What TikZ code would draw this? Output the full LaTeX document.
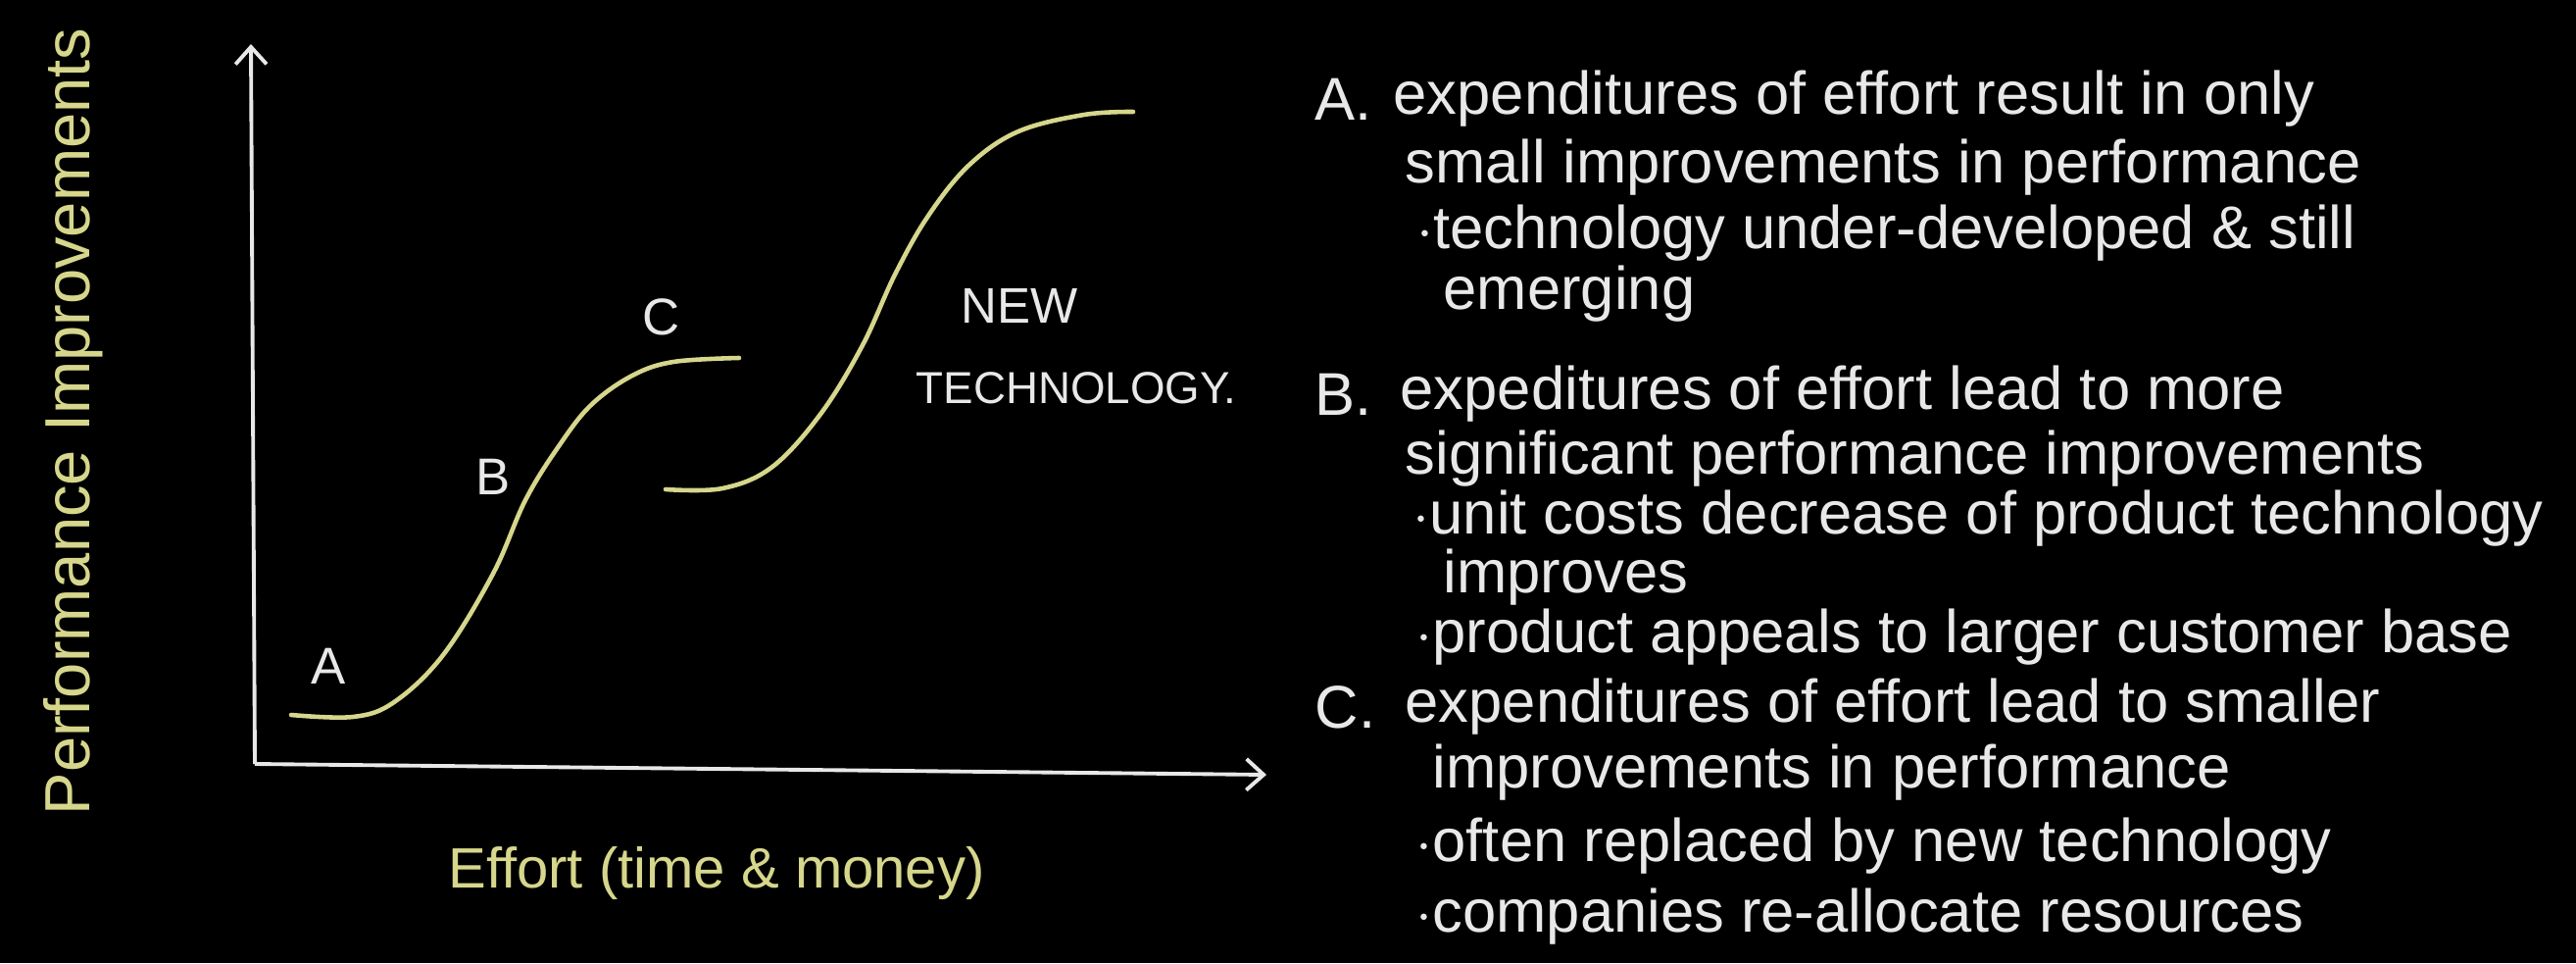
\documentclass[tikz,border=0pt]{standalone}
\usepackage{fontspec}
\setmainfont{Liberation Sans}
\usepackage{tikz}
\usetikzlibrary{arrows.meta, positioning}
\usepackage{xcolor}
\definecolor{chalkYellow}{RGB}{214,214,140}
\definecolor{chalkWhite}{RGB}{232,232,232}

\begin{document}
\begin{tikzpicture}[
    x=0.01cm, y=-0.01cm,
    axisline/.style={draw=chalkWhite, line width=1.1pt, -{Straight Barb[length=5pt, width=9pt]}},
    scurve/.style={draw=chalkYellow, line width=1.3pt, line cap=round},
    phase/.style={text=chalkWhite, font=\fontsize{15}{15}\selectfont, inner sep=0pt},
    tech/.style={text=chalkWhite, font=\fontsize{13}{13}\selectfont, inner sep=0pt, anchor=west},
    note/.style={text=chalkWhite, font=\fontsize{17.5}{17.5}\selectfont, inner sep=0pt, anchor=west},
    axislabel/.style={text=chalkYellow, inner sep=0pt}
]
% background and frame
\fill[black] (0,0) rectangle (2628,982);
\useasboundingbox (0,0) rectangle (2628,982);

% axes
\coordinate (origin) at (260,779);
\coordinate (ytop) at (256,45);
\coordinate (xend) at (1292,790);
\draw[axisline] (origin) -- (ytop);
\draw[axisline] (origin) -- (xend);

\node[axislabel, rotate=90, font=\fontsize{18.5}{18.5}\selectfont] (ylab) at (75,430) {Performance Improvements};
\node[axislabel, font=\fontsize{16.5}{16.5}\selectfont] (xlab) at (731,890) {Effort (time \& money)};

% old and new technology curves
\draw[scurve] plot[smooth, tension=0.6] coordinates {(297,729) (360,731) (402,716) (452,668) (503,585) (536,510) (570,455) (603,413) (645,383) (687,369) (754,365)};
\draw[scurve] plot[smooth, tension=0.6] coordinates {(679,499) (737,498) (788,476) (838,421) (880,352) (913,280) (947,220) (989,168) (1039,134) (1106,117) (1156,114)};

\node[phase] (pA) at (335,679) {A};
\node[phase] (pB) at (503,486) {B};
\node[phase] (pC) at (675,323) {C};
\node[tech, font=\fontsize{14.5}{14.5}\selectfont] (newl) at (980,312) {NEW};
\node[tech] (techl) at (934,396) {TECHNOLOGY.};

% explanations
\node[note] (a0) at (1341,101) {A.};
\node[note] (a1) at (1421,101) {expenditures of effort result in only};
\node[note] (a2) at (1433,171) {small improvements in performance};
\node[note] (a3) at (1445,238) {$\cdot$technology under-developed \& still};
\node[note] (a4) at (1472,300) {emerging};

\node[note] (b0) at (1341,402) {B.};
\node[note] (b1) at (1428,402) {expeditures of effort lead to more};
\node[note] (b2) at (1433,468) {significant performance improvements};
\node[note] (b3) at (1441,529) {$\cdot$unit costs decrease of product technology};
\node[note] (b4) at (1472,589) {improves};
\node[note] (b5) at (1444,650) {$\cdot$product appeals to larger customer base};

\node[note] (c0) at (1341,721) {C.};
\node[note] (c1) at (1433,721) {expenditures of effort lead to smaller};
\node[note] (c2) at (1461,788) {improvements in performance};
\node[note] (c3) at (1444,863) {$\cdot$often replaced by new technology};
\node[note] (c4) at (1444,935) {$\cdot$companies re-allocate resources};
\end{tikzpicture}
\end{document}
